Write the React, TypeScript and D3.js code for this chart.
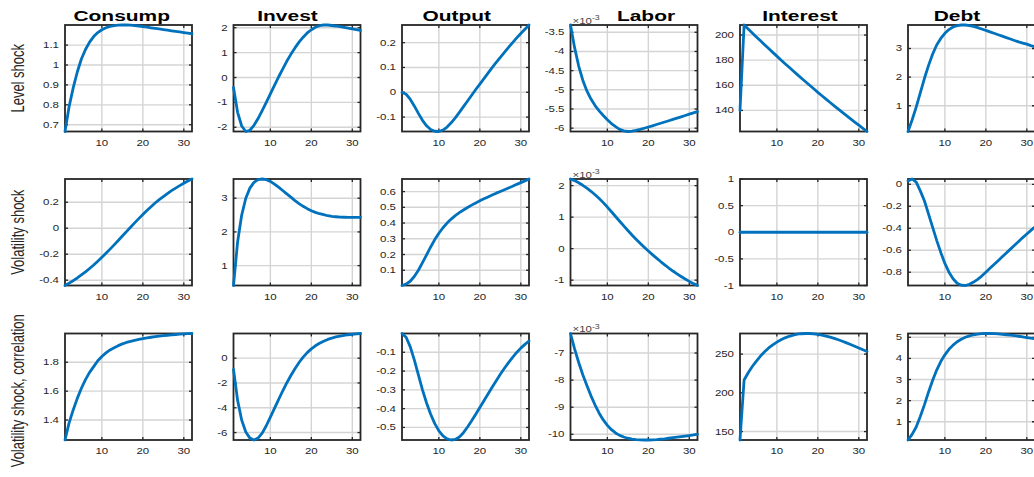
import React from 'react';
import * as d3 from 'd3';

// ---------- data ----------
const periods = d3.range(1, 33);
const titles = ['Consump', 'Invest', 'Output', 'Labor', 'Interest', 'Debt'];
const rowLabels = ['Level shock', 'Volatility shock', 'Volatility shock, correlation'];
const titleCenters = [121.7, 287.5, 456.7, 646, 800, 957];
const xTicks = [10, 20, 30];

// Row 1: level shock
const consumpLevel = [0.666, 0.79, 0.885, 0.965, 1.03, 1.078, 1.115, 1.143, 1.163, 1.177, 1.187, 1.194, 1.198, 1.2, 1.201, 1.201, 1.2, 1.198, 1.196, 1.193, 1.19, 1.187, 1.184, 1.181, 1.178, 1.175, 1.172, 1.169, 1.166, 1.163, 1.16, 1.157];
const investLevel = [-0.4, -1.4, -1.95, -2.17, -2.12, -1.92, -1.65, -1.33, -1.0, -0.66, -0.32, 0.02, 0.34, 0.65, 0.93, 1.19, 1.42, 1.62, 1.79, 1.92, 2.02, 2.08, 2.11, 2.11, 2.09, 2.07, 2.04, 2.01, 1.98, 1.95, 1.92, 1.89];
const outputLevel = [0, -0.008, -0.028, -0.055, -0.085, -0.113, -0.135, -0.15, -0.157, -0.158, -0.152, -0.14, -0.123, -0.103, -0.081, -0.058, -0.035, -0.012, 0.011, 0.033, 0.055, 0.077, 0.099, 0.12, 0.141, 0.161, 0.181, 0.2, 0.219, 0.237, 0.254, 0.271];
const laborLevel = [-3.31, -3.9, -4.38, -4.75, -5.03, -5.24, -5.41, -5.55, -5.67, -5.78, -5.88, -5.96, -6.03, -6.07, -6.087, -6.078, -6.058, -6.032, -6.002, -5.97, -5.938, -5.905, -5.872, -5.839, -5.806, -5.772, -5.738, -5.704, -5.67, -5.636, -5.602, -5.568];
const interestLevel = [140, 208, 204.8, 201.7, 198.5, 195.4, 192.3, 189.3, 186.2, 183.2, 180.2, 177.2, 174.3, 171.4, 168.5, 165.6, 162.8, 160.0, 157.2, 154.4, 151.7, 149.0, 146.3, 143.6, 141.0, 138.4, 135.8, 133.2, 130.7, 128.2, 125.7, 123.2];
const debtLevel = [0.1, 0.5, 0.95, 1.45, 1.95, 2.4, 2.8, 3.12, 3.35, 3.53, 3.66, 3.75, 3.8, 3.82, 3.82, 3.8, 3.77, 3.73, 3.68, 3.63, 3.58, 3.53, 3.48, 3.43, 3.38, 3.33, 3.28, 3.23, 3.19, 3.15, 3.1, 3.06];

// Row 2: volatility shock
const consumpVol = [-0.441, -0.423, -0.404, -0.383, -0.36, -0.336, -0.31, -0.283, -0.254, -0.224, -0.193, -0.161, -0.128, -0.094, -0.06, -0.026, 0.008, 0.041, 0.074, 0.106, 0.137, 0.166, 0.194, 0.22, 0.244, 0.267, 0.289, 0.309, 0.328, 0.346, 0.363, 0.379];
const investVol = [0.41, 1.7, 2.5, 3.0, 3.3, 3.47, 3.55, 3.57, 3.55, 3.5, 3.42, 3.33, 3.23, 3.13, 3.03, 2.93, 2.84, 2.76, 2.69, 2.63, 2.58, 2.54, 2.51, 2.48, 2.46, 2.45, 2.44, 2.435, 2.43, 2.43, 2.43, 2.43];
const outputVol = [0.003, 0.012, 0.03, 0.06, 0.1, 0.148, 0.198, 0.248, 0.295, 0.335, 0.37, 0.4, 0.425, 0.447, 0.466, 0.483, 0.499, 0.514, 0.528, 0.541, 0.554, 0.566, 0.578, 0.59, 0.601, 0.612, 0.623, 0.634, 0.646, 0.657, 0.668, 0.68];
const laborVol = [2.21, 2.16, 2.09, 2.01, 1.92, 1.82, 1.71, 1.59, 1.46, 1.32, 1.17, 1.02, 0.87, 0.72, 0.575, 0.435, 0.3, 0.17, 0.045, -0.075, -0.19, -0.3, -0.41, -0.515, -0.615, -0.71, -0.8, -0.885, -0.965, -1.04, -1.11, -1.17];
const interestVol = [0, 0, 0, 0, 0, 0, 0, 0, 0, 0, 0, 0, 0, 0, 0, 0, 0, 0, 0, 0, 0, 0, 0, 0, 0, 0, 0, 0, 0, 0, 0, 0];
const debtVol = [0.03, 0.048, 0.02, -0.06, -0.15, -0.27, -0.39, -0.51, -0.62, -0.72, -0.8, -0.86, -0.9, -0.918, -0.921, -0.91, -0.89, -0.865, -0.835, -0.8, -0.765, -0.73, -0.695, -0.66, -0.625, -0.59, -0.555, -0.52, -0.485, -0.452, -0.42, -0.388];

// Row 3: volatility shock, correlation
const consumpCorr = [1.262, 1.38, 1.47, 1.55, 1.62, 1.68, 1.73, 1.77, 1.81, 1.84, 1.865, 1.885, 1.9, 1.915, 1.927, 1.937, 1.945, 1.952, 1.958, 1.964, 1.969, 1.973, 1.977, 1.981, 1.984, 1.987, 1.99, 1.992, 1.994, 1.996, 1.998, 1.999];
const investCorr = [-0.9, -3.4, -5.0, -5.95, -6.45, -6.6, -6.45, -6.05, -5.45, -4.75, -4.05, -3.35, -2.65, -2.0, -1.4, -0.85, -0.35, 0.08, 0.45, 0.75, 1.0, 1.2, 1.37, 1.51, 1.62, 1.71, 1.78, 1.84, 1.89, 1.93, 1.96, 1.99];
const outputCorr = [0, -0.02, -0.07, -0.14, -0.22, -0.3, -0.37, -0.43, -0.48, -0.518, -0.545, -0.561, -0.567, -0.564, -0.551, -0.528, -0.498, -0.465, -0.43, -0.394, -0.358, -0.322, -0.286, -0.251, -0.217, -0.185, -0.155, -0.127, -0.101, -0.078, -0.058, -0.04];
const laborCorr = [-6.28, -6.85, -7.35, -7.8, -8.2, -8.58, -8.92, -9.22, -9.47, -9.67, -9.83, -9.95, -10.04, -10.1, -10.145, -10.175, -10.195, -10.205, -10.21, -10.21, -10.205, -10.195, -10.18, -10.165, -10.145, -10.125, -10.105, -10.085, -10.065, -10.045, -10.025, -10.0];
const interestCorr = [139.1, 216.6, 226, 234, 241, 247.5, 253, 258, 262, 265.5, 268.5, 271, 273, 274.6, 275.7, 276.3, 276.6, 276.6, 276.2, 275.5, 274.5, 273.3, 271.9, 270.3, 268.5, 266.6, 264.5, 262.3, 260.1, 257.8, 255.6, 253.4];
const debtCorr = [0.135, 0.4, 0.75, 1.25, 1.8, 2.4, 2.95, 3.45, 3.85, 4.17, 4.43, 4.63, 4.79, 4.91, 5.0, 5.07, 5.12, 5.15, 5.17, 5.18, 5.18, 5.17, 5.16, 5.14, 5.12, 5.1, 5.08, 5.05, 5.02, 4.99, 4.96, 4.93];

// y tick values per panel
const yTicksLevel = [[0.7, 0.8, 0.9, 1, 1.1], [-2, -1, 0, 1, 2], [-0.1, 0, 0.1, 0.2], [-6, -5.5, -5, -4.5, -4, -3.5], [140, 160, 180, 200], [1, 2, 3]];
const yTicksVol = [[-0.4, -0.2, 0, 0.2], [1, 2, 3], [0.1, 0.2, 0.3, 0.4, 0.5, 0.6], [-1, 0, 1, 2], [-1, -0.5, 0, 0.5, 1], [-0.8, -0.6, -0.4, -0.2, 0]];
const yTicksCorr = [[1.4, 1.6, 1.8], [-6, -4, -2, 0], [-0.5, -0.4, -0.3, -0.2, -0.1], [-10, -9, -8, -7], [150, 200, 250], [1, 2, 3, 4, 5]];

const seriesRows = [
  [consumpLevel, investLevel, outputLevel, laborLevel, interestLevel, debtLevel],
  [consumpVol, investVol, outputVol, laborVol, interestVol, debtVol],
  [consumpCorr, investCorr, outputCorr, laborCorr, interestCorr, debtCorr],
];
const tickRows = [yTicksLevel, yTicksVol, yTicksCorr];
const exponentColumn = 3;

// ---------- layout ----------
const W = 1034;
const H = 477;
const colLefts = [65, 233.5, 402, 570.5, 740, 908];
const rowTops = [25, 179, 333.5];
const AW = 127;
const AH = 106.5;
const SX = 1.35;
const FONT = "'Liberation Sans', Arial, Helvetica, sans-serif";
const AX = '#262626';
const GRID = '#d4d4d4';
const LINE = '#0072BD';

function Panel({ data, ticks, left, top, exponent }: { data: number[]; ticks: number[]; left: number; top: number; exponent: boolean }) {
  const x = d3.scaleLinear().domain([1, 32]).range([left, left + AW]);
  let ext = d3.extent(data) as [number, number];
  if (ext[0] === ext[1]) ext = [ext[0] - 1, ext[1] + 1];
  const y = d3.scaleLinear().domain(ext).range([top + AH, top]);
  const line = d3.line<number>().x((_, i) => x(periods[i])).y((d) => y(d));
  const bottom = top + AH;
  const right = left + AW;
  const tl = 3;
  return (
    <g>
      {xTicks.map((t) => (
        <line key={'gx' + t} x1={x(t)} x2={x(t)} y1={top} y2={bottom} stroke={GRID} strokeWidth={1.4} />
      ))}
      {ticks.map((t) => (
        <line key={'gy' + t} x1={left} x2={right} y1={y(t)} y2={y(t)} stroke={GRID} strokeWidth={1.4} />
      ))}
      {xTicks.map((t) => (
        <g key={'tx' + t}>
          <line x1={x(t)} x2={x(t)} y1={bottom} y2={bottom - tl} stroke={AX} strokeWidth={1.3} />
          <line x1={x(t)} x2={x(t)} y1={top} y2={top + tl} stroke={AX} strokeWidth={1.3} />
          <text transform={`translate(${x(t)},${bottom + 14}) scale(${SX},1)`} textAnchor="middle" fontSize={8.5} fill={AX} fontFamily={FONT}>
            {t}
          </text>
        </g>
      ))}
      {ticks.map((t) => (
        <g key={'ty' + t}>
          <line x1={left} x2={left + tl} y1={y(t)} y2={y(t)} stroke={AX} strokeWidth={1.3} />
          <line x1={right} x2={right - tl} y1={y(t)} y2={y(t)} stroke={AX} strokeWidth={1.3} />
          <text transform={`translate(${left - 6},${y(t) + 3}) scale(${SX},1)`} textAnchor="end" fontSize={8.5} fill={AX} fontFamily={FONT}>
            {String(t)}
          </text>
        </g>
      ))}
      <rect x={left} y={top} width={AW} height={AH} fill="none" stroke={AX} strokeWidth={1.8} />
      {exponent && (
        <text transform={`translate(${left + 2},${top - 1.5}) scale(${SX},1)`} fontSize={8.5} fill="#444" fontFamily={FONT}>
          ×10
          <tspan fontSize={6.5} dy={-3.5}>-3</tspan>
        </text>
      )}
      <path d={line(data) || ''} fill="none" stroke={LINE} strokeWidth={2.8} strokeLinejoin="round" strokeLinecap="round" />
    </g>
  );
}

export default function App() {
  const rowCenters = [rowTops[0] + AH / 2, rowTops[1] + AH / 2, rowTops[2] + AH / 2 + 4];
  return (
    <svg width={W} height={H} style={{ position: 'absolute', left: 0, top: 0, background: '#fff' }}>
      <rect x={0} y={0} width={W} height={H} fill="#fff" />
      {titles.map((t, i) => (
        <text key={t} transform={`translate(${titleCenters[i]},${21}) scale(${SX},1)`} textAnchor="middle" fontSize={15.5} fontWeight="bold" fill="#000" fontFamily={FONT}>
          {t}
        </text>
      ))}
      {rowLabels.map((r, i) => (
        <text key={r} transform={`translate(${24},${rowCenters[i]}) scale(${SX},1) rotate(-90)`} textAnchor="middle" fontSize={13} fill={AX} fontFamily={FONT}>
          {r}
        </text>
      ))}
      {seriesRows.map((row, ri) =>
        row.map((data, ci) => (
          <Panel key={ri + '-' + ci} data={data} ticks={tickRows[ri][ci]} left={colLefts[ci]} top={rowTops[ri]} exponent={ci === exponentColumn} />
        ))
      )}
    </svg>
  );
}
